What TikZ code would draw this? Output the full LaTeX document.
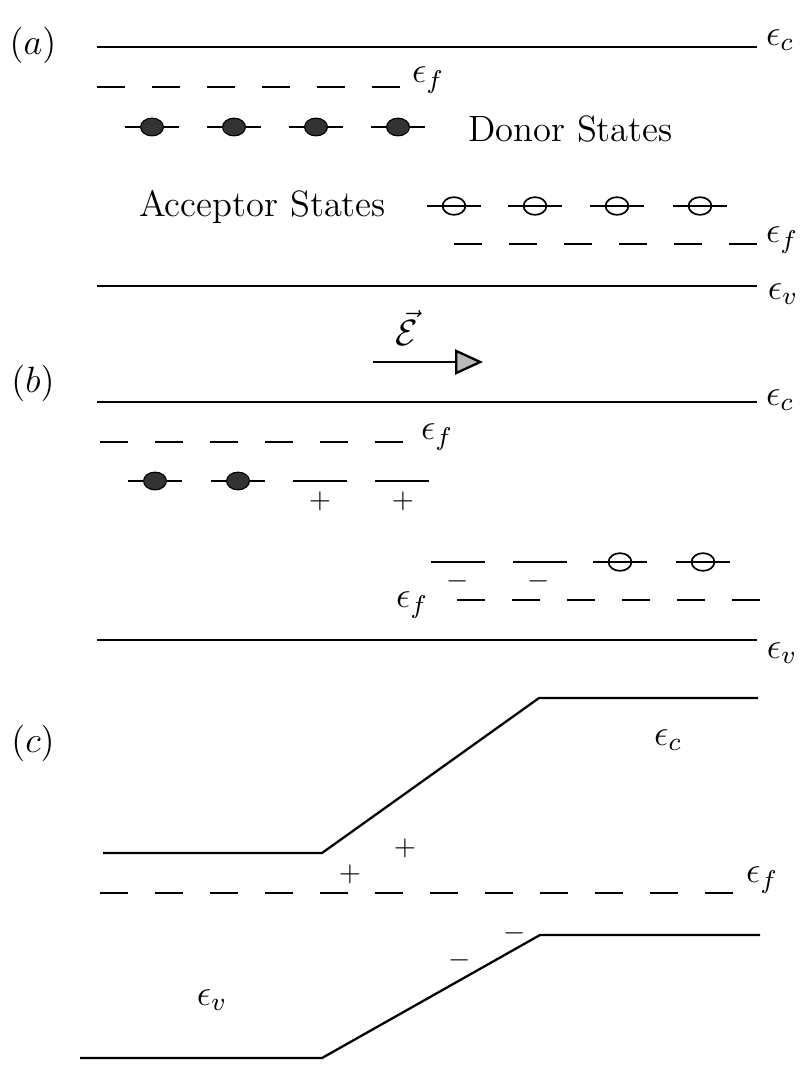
\RequirePackage{fix-cm}
\documentclass[tikz,border=0pt]{standalone}
\usepackage{amsmath,amssymb}
\usepackage{tikz}
\usetikzlibrary{arrows.meta,shapes.geometric}
\tikzset{
  lvl/.style={line width=0.8pt,draw=black},
  fermi/.style={line width=0.8pt,draw=black,dash pattern=on 9.8pt off 9.45pt},
  site/.style={line width=0.7pt,draw=black},
  donor/.style={ellipse,draw=black,fill=black!80,minimum width=8pt,minimum height=6.2pt,inner sep=0pt},
  accpt/.style={ellipse,draw=black,line width=0.6pt,minimum width=8pt,minimum height=6.2pt,inner sep=0pt},
  chg/.style={font=\normalsize,inner sep=0pt},
  field/.style={-{Triangle[length=9.8pt,width=8.8pt,fill=gray!55]},line width=0.8pt,draw=black}
}
\begin{document}
\begin{tikzpicture}[x=0.35pt,y=-0.35pt,font=\fontsize{12.8}{15}\selectfont]
  \useasboundingbox (0,0) rectangle (808,1091);
  % (a)
  \node (lba) at (33,45) {$(a)$};
  \draw[lvl] (97,47) -- (757,47);
  \node (eca) at (780,40) {$\epsilon_c$};
  \draw[fermi] (97,87) -- (400,87);
  \node (efa) at (428,80) {$\epsilon_f$};
  \foreach \x in {152,234,316,398}{
    \draw[site] (\x-27,127) -- (\x+27,127);
    \node[donor] (da\x) at (\x,127) {};
  }
  \node[anchor=west] (donlab) at (458,129) {Donor States};
  \node[anchor=east] (acclab) at (396,207) {Acceptor States};
  \foreach \x in {454,535,617,700}{
    \draw[site] (\x-27,206) -- (\x+27,206);
    \node[accpt] (aa\x) at (\x,206) {};
  }
  \draw[fermi] (454,244) -- (757,244);
  \node (efa2) at (782,240) {$\epsilon_f$};
  \draw[lvl] (97,286) -- (757,286);
  \node (eva) at (783,294) {$\epsilon_v$};
  % field
  \coordinate (fs) at (373,362);
  \coordinate (fe) at (483,362);
  \draw[field] (fs) -- (fe);
  \node (flab) at (407,328) {$\vec{\mathcal{E}}$};
  % (b)
  \node (lbb) at (33,383) {$(b)$};
  \draw[lvl] (97,402) -- (757,402);
  \node (ecb) at (780,400) {$\epsilon_c$};
  \draw[fermi] (100,442) -- (403,442);
  \node (efb) at (437,437) {$\epsilon_f$};
  \foreach \x in {155,238,320,402}{
    \draw[site] (\x-27,481) -- (\x+27,481);
  }
  \node[donor] (db1) at (155,481) {};
  \node[donor] (db2) at (238,481) {};
  \node[chg] (pb1) at (320,501) {$+$};
  \node[chg] (pb2) at (403,501) {$+$};
  \foreach \x in {458,540,620,703}{
    \draw[site] (\x-27,562) -- (\x+27,562);
  }
  \node[accpt] (ab1) at (620,562) {};
  \node[accpt] (ab2) at (703,562) {};
  \node[chg] (mb1) at (458,581) {$-$};
  \node[chg] (mb2) at (539,581) {$-$};
  \draw[fermi] (457,600) -- (760,600);
  \node (efb2) at (412,605) {$\epsilon_f$};
  \draw[lvl] (97,640) -- (757,640);
  \node (evb) at (782,653) {$\epsilon_v$};
  % (c)
  \node (lbc) at (33,743) {$(c)$};
  \draw[lvl] (103,853) -- (322,853) -- (539,698) -- (758,698);
  \node (ecc) at (668,740) {$\epsilon_c$};
  \node[chg] (pc1) at (405,848) {$+$};
  \node[chg] (pc2) at (350,874) {$+$};
  \draw[fermi] (100,893) -- (733,893);
  \node (efc) at (762,880) {$\epsilon_f$};
  \node[chg] (mc1) at (460,960) {$-$};
  \node[chg] (mc2) at (515,933) {$-$};
  \draw[lvl] (80,1058) -- (322,1058) -- (540,935) -- (760,935);
  \node (evc) at (212,1000) {$\epsilon_v$};
\end{tikzpicture}
\end{document}
